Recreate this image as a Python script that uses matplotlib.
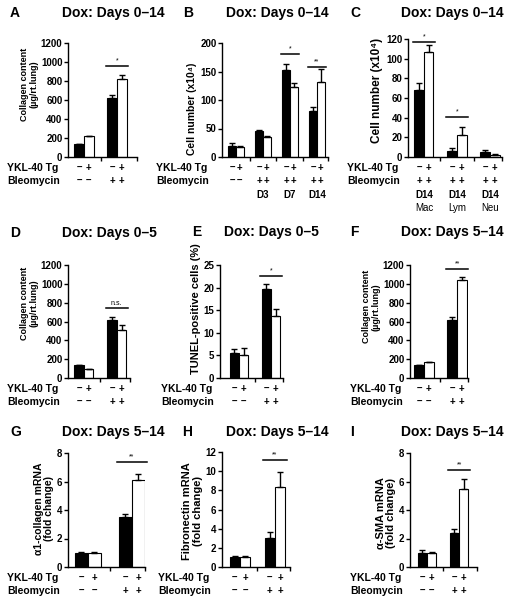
import numpy as np
import matplotlib
matplotlib.use('Agg')
import matplotlib.pyplot as plt

plt.rcParams['font.family'] = ['Liberation Sans', 'DejaVu Sans']
plt.rcParams['font.weight'] = 'bold'
plt.rcParams['axes.linewidth'] = 1.0

# ---- data (black = YKL-40 Tg -, white = YKL-40 Tg +) ----
a_black, a_black_err = [140, 620], [0, 35]
a_white, a_white_err = [220, 820], [0, 45]

b_black, b_black_err = [20, 45, 153, 80], [5, 2, 10, 7]
b_white, b_white_err = [18, 35, 123, 132], [2, 2, 6, 22]
b_days = ['', 'D3', 'D7', 'D14']

c_black, c_black_err = [68, 6, 5], [7, 3, 2]
c_white, c_white_err = [107, 22, 2], [7, 9, 1]
c_days = ['D14', 'D14', 'D14']
c_cells = ['Mac', 'Lym', 'Neu']

d_black, d_black_err = [140, 615], [0, 30]
d_white, d_white_err = [100, 505], [0, 55]

e_black, e_black_err = [5.5, 19.7], [1.0, 1.1]
e_white, e_white_err = [5.0, 13.8], [1.7, 1.4]

f_black, f_black_err = [140, 615], [0, 35]
f_white, f_white_err = [165, 1045], [0, 30]

g_black, g_black_err = [1.0, 3.5], [0.05, 0.25]
g_white, g_white_err = [1.0, 6.1], [0.05, 0.45]

h_black, h_black_err = [1.0, 3.0], [0.1, 0.7]
h_white, h_white_err = [1.0, 8.4], [0.12, 1.5]

i_black, i_black_err = [1.0, 2.4], [0.2, 0.3]
i_white, i_white_err = [1.0, 5.5], [0.05, 0.65]

bleo_2 = ['–', '+']
bleo_b = ['–', '+', '+', '+']
bleo_c = ['+', '+', '+']

W, H = 505, 600
fig = plt.figure(figsize=(5.05, 6.0), dpi=100)


def panel(box, xlim, black, berr, white, werr, ymax, ystep, ylabel, ylsize,
          ylab_y, sigs, bleo, extra=None, labx=7):
    x0, x1, yt, yb = box
    ax = fig.add_axes([x0 / W, 1 - yb / H, (x1 - x0) / W, (yb - yt) / H])
    n = len(black)
    x = np.arange(n)
    w = 0.29
    ekw = dict(ecolor='black', elinewidth=1.0, capsize=2.2, capthick=1.0)
    ax.bar(x - w / 2, black, w, color='black', edgecolor='black', lw=0.8,
           yerr=[np.zeros(n), berr], error_kw=ekw, zorder=2)
    ax.bar(x + w / 2, white, w, color='white', edgecolor='black', lw=0.8,
           yerr=[np.zeros(n), werr], error_kw=ekw, zorder=2)
    ax.set_xlim(*xlim)
    ax.set_ylim(0, ymax)
    ax.set_yticks(np.arange(0, ymax + ystep / 2, ystep))
    ax.set_xticks(list(np.arange(n - 1) + 0.5) + [xlim[1]])
    ax.set_xticklabels([])
    ax.tick_params(direction='out', length=3, width=1, labelsize=7, pad=1)
    for s in ['top', 'right']:
        ax.spines[s].set_visible(False)
    ax.set_ylabel(ylabel, fontsize=ylsize, fontweight='bold', labelpad=2,
                  linespacing=1.05)
    ax.yaxis.label.set_y(ylab_y)
    tr = ax.get_xaxis_transform()
    # significance bars
    for g, y, s in sigs:
        ax.plot([g - w - 0.05, g + w + 0.05], [y, y], color='black', lw=1.1,
                clip_on=False)
        ax.annotate(s, (g, y), xytext=(0, 1), textcoords='offset points',
                    ha='center', va='bottom', fontsize=5, fontweight='normal',
                    annotation_clip=False)
    # condition rows
    for k in range(n):
        ax.annotate('–', (k - w / 2, 0), xycoords=tr, xytext=(0, -11),
                    textcoords='offset pixels', ha='center', va='center',
                    fontsize=7, annotation_clip=False)
        ax.annotate('+', (k + w / 2, 0), xycoords=tr, xytext=(0, -11),
                    textcoords='offset pixels', ha='center', va='center',
                    fontsize=7, annotation_clip=False)
        for dx in (-w / 2, w / 2):
            ax.annotate(bleo[k], (k + dx, 0), xycoords=tr, xytext=(0, -24),
                        textcoords='offset pixels', ha='center', va='center',
                        fontsize=7, annotation_clip=False)
    if extra:
        for r, (labels, fw) in enumerate(extra):
            for k in range(n):
                ax.annotate(labels[k], (k, 0), xycoords=tr,
                            xytext=(0, -38 - 13 * r), textcoords='offset pixels',
                            ha='center', va='center', fontsize=7,
                            fontweight=fw, annotation_clip=False)
    for off, lab in [(-11, 'YKL-40 Tg'), (-24, 'Bleomycin')]:
        fig.text(labx / W, 1 - (yb - off) / H, lab, ha='left', va='center',
                 fontsize=7.5, fontweight='bold')
    return ax


def header(letter, lx, title, tx, y):
    fig.text(lx / W, 1 - y / H, letter, ha='left', va='center', fontsize=10,
             fontweight='bold')
    fig.text(tx / W, 1 - y / H, title, ha='center', va='center', fontsize=10,
             fontweight='bold')


coll = 'Collagen content\n(µg/rt.lung)'

# Row 1
header('A', 10, 'Dox: Days 0–14', 113, 13)
panel((68, 137, 43, 157), (-0.48, 1.6), a_black, a_black_err, a_white,
      a_white_err, 1200, 200, coll, 6.5, 0.64, [(1, 960, '*')], bleo_2, labx=7)

header('B', 183, 'Dox: Days 0–14', 277, 13)
panel((222, 328, 43, 157), (-0.52, 3.41), b_black, b_black_err, b_white,
      b_white_err, 200, 50, 'Cell number (x10⁴)', 7.5, 0.42,
      [(2, 181, '*'), (3, 158, '**')], bleo_b, extra=[(b_days, 'bold')],
      labx=156)

header('C', 350, 'Dox: Days 0–14', 452, 13)
panel((408, 502, 39, 157), (-0.48, 2.36), c_black, c_black_err, c_white,
      c_white_err, 120, 20, 'Cell number (x10⁴)', 8.5, 0.56,
      [(0, 117, '*'), (1, 41, '*')], bleo_c,
      extra=[(c_days, 'bold'), (c_cells, 'normal')], labx=347)

# Row 2
header('D', 10, 'Dox: Days 0–5', 109, 233)
panel((68, 130, 265, 378), (-0.48, 1.4), d_black, d_black_err, d_white,
      d_white_err, 1200, 200, coll, 6.5, 0.66, [(1, 743, 'n.s.')], bleo_2,
      labx=7)

header('E', 192, 'Dox: Days 0–5', 271, 232)
panel((220, 283, 265, 378), (-0.6, 1.38), e_black, e_black_err, e_white,
      e_white_err, 25, 5, 'TUNEL-positive cells (%)', 8, 0.61,
      [(1, 22.6, '*')], bleo_2, labx=161)

header('F', 350, 'Dox: Days 5–14', 452, 232)
panel((410, 468, 265, 378), (-0.42, 1.33), f_black, f_black_err, f_white,
      f_white_err, 1200, 200, coll, 6.5, 0.63, [(1, 1157, '**')], bleo_2,
      labx=350)

# Row 3
header('G', 10, 'Dox: Days 5–14', 113, 432)
panel((68, 145, 453, 567), (-0.45, 1.3), g_black, g_black_err, g_white,
      g_white_err, 8, 2, 'α1-collagen mRNA\n(fold change)', 7.5, 0.51,
      [(1, 7.4, '**')], bleo_2, labx=7)

header('H', 182, 'Dox: Days 5–14', 277, 432)
panel((222, 290, 452, 567), (-0.51, 1.43), h_black, h_black_err, h_white,
      h_white_err, 12, 2, 'Fibronectin mRNA\n(fold change)', 8, 0.49,
      [(1, 11.2, '**')], bleo_2, labx=158)

header('I', 350, 'Dox: Days 5–14', 452, 432)
panel((410, 477, 453, 567), (-0.53, 1.56), i_black, i_black_err, i_white,
      i_white_err, 8, 2, 'α-SMA mRNA\n(fold change)', 8, 0.47,
      [(1, 6.8, '**')], bleo_2, labx=350)

fig.savefig('out.png', dpi=100)
